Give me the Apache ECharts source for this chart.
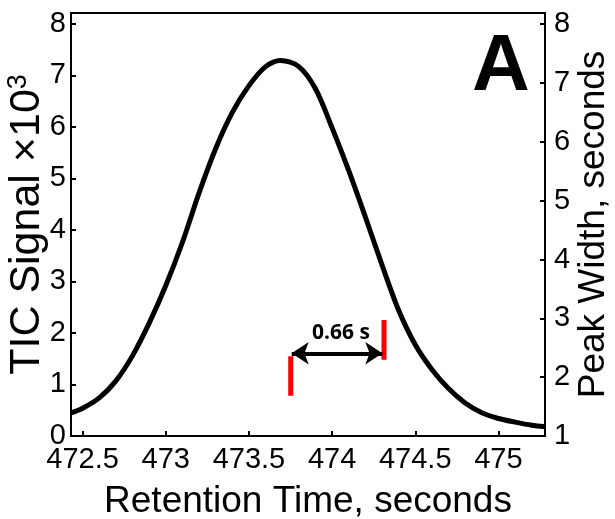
<!DOCTYPE html>
<html>
<head>
<meta charset="utf-8">
<script src="https://cdn.jsdelivr.net/npm/echarts@6/dist/echarts.min.js"></script>
<style>
  html, body { margin: 0; padding: 0; background: #fff; }
  #chart { width: 615px; height: 519px; }
</style>
</head>
<body>
<div id="chart"></div>
<script>
// Chromatographic peak: retention time (s) vs TIC signal (x10^3)
const retentionTime = [472.43, 472.50, 472.60, 472.70, 472.80, 472.90, 473.00, 473.10, 473.20, 473.30,
  473.40, 473.50, 473.60, 473.69, 473.80, 473.90, 474.00, 474.10, 474.20, 474.30,
  474.40, 474.50, 474.60, 474.70, 474.80, 474.90, 475.00, 475.10, 475.20, 475.28];
const ticSignal = [0.45, 0.54, 0.74, 1.07, 1.56, 2.19, 2.92, 3.76, 4.72, 5.58,
  6.28, 6.80, 7.17, 7.29, 7.17, 6.74, 5.98, 5.15, 4.25, 3.32,
  2.44, 1.77, 1.29, 0.92, 0.64, 0.45, 0.34, 0.27, 0.21, 0.18];

// Axis ranges and tick labels
const timeRange = [472.43, 475.28];
const timeTicks = [472.5, 473, 473.5, 474, 474.5, 475];
const signalRange = [0, 8.21];
const signalTicks = [0, 1, 2, 3, 4, 5, 6, 7, 8];
const widthRange = [1, 8.19];
const widthTicks = [1, 2, 3, 4, 5, 6, 7, 8];

// Peak-width markers (time, signal) and the width annotation
const peakStartBar = [[473.751, 1.55], [473.751, 0.78]];
const peakEndBar = [[474.312, 2.25], [474.312, 1.48]];
const widthArrow = [[473.757, 1.606], [474.302, 1.606]];
const widthLabel = '0.66 s';

const FONT = 'Liberation Sans, Arial, sans-serif';
const chart = echarts.init(document.getElementById('chart'), null, { renderer: 'canvas' });

const axisLineStyle = { show: true, onZero: false, lineStyle: { color: '#000', width: 2 } };
const tickStyle = { show: true, inside: true, length: 5, lineStyle: { color: '#000', width: 2 } };

chart.setOption({
  animation: false,
  backgroundColor: '#fff',
  grid: {
    left: 71, right: 70, top: 13, bottom: 83,
    containLabel: false, outerBoundsMode: 'none',
    show: true, borderColor: '#000', borderWidth: 2, backgroundColor: 'transparent'
  },
  xAxis: {
    type: 'value',
    min: timeRange[0], max: timeRange[1],
    name: 'Retention Time, seconds',
    nameLocation: 'middle', nameGap: 47, nameMoveOverlap: false,
    nameTextStyle: { fontFamily: FONT, fontSize: 37, color: '#000' },
    axisLine: axisLineStyle,
    axisTick: Object.assign({ customValues: timeTicks }, tickStyle),
    axisLabel: { customValues: timeTicks, fontFamily: FONT, fontSize: 29, color: '#000', margin: 9,
      formatter: v => String(v) },
    splitLine: { show: false }
  },
  yAxis: [
    {
      type: 'value', position: 'left',
      min: signalRange[0], max: signalRange[1],
      name: '{n|TIC Signal ×10}{s|3}',
      nameLocation: 'middle', nameGap: 21, nameMoveOverlap: false,
      nameTextStyle: {
        fontFamily: FONT, fontSize: 43, color: '#000',
        rich: {
          n: { fontFamily: FONT, fontSize: 43, color: '#000' },
          s: { fontFamily: FONT, fontSize: 27, color: '#000', padding: [0, 0, 18, 0] }
        }
      },
      axisLine: axisLineStyle,
      axisTick: Object.assign({ customValues: signalTicks }, tickStyle),
      axisLabel: { customValues: signalTicks, fontFamily: FONT, fontSize: 29, color: '#000', margin: 5 },
      splitLine: { show: false }
    },
    {
      type: 'value', position: 'right',
      min: widthRange[0], max: widthRange[1],
      name: 'Peak Width, seconds',
      nameLocation: 'middle', nameGap: 30, nameMoveOverlap: false,
      nameTextStyle: { fontFamily: FONT, fontSize: 37, color: '#000' },
      axisLine: axisLineStyle,
      axisTick: Object.assign({ customValues: widthTicks }, tickStyle),
      axisLabel: { customValues: widthTicks, fontFamily: FONT, fontSize: 29, color: '#000', margin: 9 },
      splitLine: { show: false }
    }
  ],
  graphic: [{
    type: 'text', left: 472, top: 28,
    style: { text: 'A', fontFamily: FONT, fontWeight: 'bold', fontSize: 80, fill: '#000' }
  }],
  series: [
    {
      type: 'line', name: 'TIC',
      data: retentionTime.map((t, i) => [t, ticSignal[i]]),
      smooth: 0.3, showSymbol: false, symbol: 'none',
      lineStyle: { color: '#000', width: 5 },
      silent: true
    },
    {
      type: 'line', data: peakStartBar, symbol: 'none', silent: true,
      lineStyle: { color: '#ff0000', width: 5, cap: 'butt' }
    },
    {
      type: 'line', data: peakEndBar, symbol: 'none', silent: true,
      lineStyle: { color: '#ff0000', width: 5, cap: 'butt' }
    },
    {
      type: 'line', data: [], symbol: 'none', silent: true,
      markLine: {
        silent: true, animation: false,
        symbol: ['arrow', 'arrow'], symbolSize: [17, 17],
        lineStyle: { color: '#000', width: 4, type: 'solid' },
        label: {
          show: true, position: 'middle', formatter: widthLabel, distance: 10,
          padding: [0, 0, 0, 8],
          fontFamily: 'Open Sans, sans-serif', fontWeight: 'bold', fontSize: 21, color: '#000'
        },
        emphasis: { disabled: true },
        data: [[{ coord: widthArrow[0] }, { coord: widthArrow[1] }]]
      }
    }
  ]
});
</script>
</body>
</html>
